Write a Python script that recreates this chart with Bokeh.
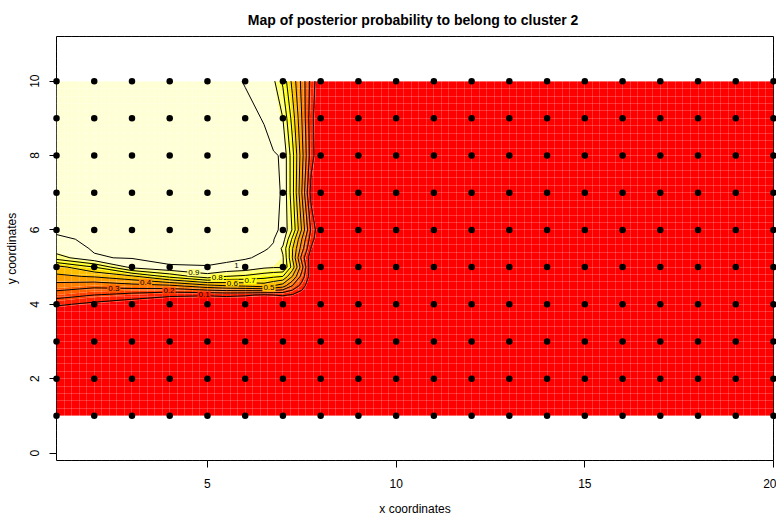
import numpy as np
from bokeh.plotting import figure
from bokeh.models import FixedTicker, SingleIntervalTicker, ColumnDataSource
from bokeh.core.properties import value
from bokeh.embed import file_html
from bokeh.resources import INLINE

title_text = "Map of posterior probability to belong to cluster  2"
x_label = "x coordinates"
y_label = "y coordinates"

# sampling sites (black dots)
site_x = list(range(1, 21))
site_y = list(range(1, 11))

# posterior probability, on a rectilinear grid of nodes
node_x = [1, 2, 3, 4, 5, 5.5, 6, 6.5, 6.75, 7, 7.25, 7.5, 7.75, 8, 20]
node_y = [1, 3.75, 4, 4.25, 4.5, 4.75, 5, 5.25, 5.5, 5.75, 6, 7, 8, 9, 10]
prob_rows = [
    [0, 0, 0, 0, 0, 0, 0, 0, 0, 0, 0, 0, 0, 0, 0],                                   # y=1
    [0, 0, 0, 0, 0, 0, 0, 0, 0, 0, 0, 0, 0, 0, 0],                                   # y=3.75
    [0.12, 0.07, 0.03, 0, 0, 0, 0, 0, 0, 0, 0, 0, 0, 0, 0],                          # y=4
    [0.25, 0.2, 0.16, 0.12, 0.11, 0.12, 0.11, 0.09, 0.1, 0.11, 0.09, 0.04, 0, 0, 0], # y=4.25
    [0.36, 0.33, 0.36, 0.38, 0.47, 0.5, 0.52, 0.55, 0.5, 0.45, 0.3, 0.16, 0, 0, 0],  # y=4.5
    [0.48, 0.51, 0.58, 0.73, 0.86, 0.8, 0.78, 0.74, 0.72, 0.7, 0.5, 0.26, 0.04, 0, 0],  # y=4.75
    [0.56, 0.7, 0.93, 0.993, 0.994, 0.99, 0.97, 0.92, 0.91, 0.91, 0.66, 0.34, 0.02, 0, 0],  # y=5
    [0.85, 0.99, 1, 1, 1, 1, 1, 0.985, 0.96, 0.91, 0.6, 0.26, 0.03, 0, 0],           # y=5.25
    [0.965, 1, 1, 1, 1, 1, 1, 0.999, 0.99, 0.88, 0.61, 0.35, 0.09, 0, 0],            # y=5.5
    [0.99, 1, 1, 1, 1, 1, 1, 1, 0.998, 0.95, 0.68, 0.4, 0.14, 0, 0],                 # y=5.75
    [1, 1, 1, 1, 1, 1, 1, 1, 1, 0.99, 0.79, 0.49, 0.18, 0, 0],                       # y=6
    [1, 1, 1, 1, 1, 1, 1, 1, 1, 0.993, 0.74, 0.4, 0.06, 0, 0],                       # y=7
    [1, 1, 1, 1, 1, 1, 1, 1, 1, 0.99, 0.74, 0.44, 0.14, 0, 0],                       # y=8
    [1, 1, 1, 1, 1, 1, 1, 0.994, 0.96, 0.9, 0.66, 0.4, 0.13, 0, 0],                  # y=9
    [1, 1, 1, 1, 1, 1, 0.994, 0.94, 0.92, 0.78, 0.57, 0.37, 0.165, 0, 0],            # y=10
]

# image colour breaks (heat.colors(12))
fill_levels = [-0.01, 0.0833, 0.1667, 0.25, 0.3333, 0.4167, 0.5, 0.5833,
               0.6667, 0.75, 0.8333, 0.9167, 1.01]
heat_colors = ["#FF0000", "#FF2000", "#FF4000", "#FF6000", "#FF8000", "#FF9F00",
               "#FFBF00", "#FFDF00", "#FFFF00", "#FFFF2A", "#FFFF80", "#FFFFD5"]

# contour lines and their labels
line_levels = [0.1, 0.2, 0.3, 0.4, 0.5, 0.6, 0.7, 0.8, 0.9, 0.995]
label_text = ["0.1", "0.2", "0.3", "0.4", "0.5", "0.6", "0.7", "0.8", "0.9", "1"]
label_value = [0.1, 0.2, 0.3, 0.4, 0.5, 0.6, 0.7, 0.8, 0.9, 1.0]
label_x = [4.91, 3.98, 2.52, 3.36, 6.63, 5.66, 6.13, 5.26, 4.64, 5.77]
label_y = [4.25, 4.36, 4.42, 4.58, 4.44, 4.57, 4.63, 4.71, 4.85, 5.03]

x_ticks = [5, 10, 15, 20]
y_ticks = [0, 2, 4, 6, 8, 10]

FONT = "Liberation Sans"

Z = np.array(prob_rows, dtype=float)

p = figure(width=776, height=518, x_range=(1, 20), y_range=(-0.2, 11.2),
           output_backend="svg", toolbar_location=None, title=title_text,
           min_border_left=56, min_border_right=3, min_border_top=35,
           min_border_bottom=56, background_fill_color="white",
           border_fill_color="white")

# filled image
p.contour(x=node_x, y=node_y, z=Z, levels=fill_levels,
          fill_color=heat_colors, line_color=None)

# faint cell texture
p.xgrid.ticker = SingleIntervalTicker(interval=0.2)
p.ygrid.ticker = SingleIntervalTicker(interval=0.2)
for g in (p.xgrid, p.ygrid):
    g.grid_line_color = "white"
    g.grid_line_alpha = 0.2
    g.grid_line_width = 1
    g.level = "guide"

# contour lines
cl = p.contour(x=node_x, y=node_y, z=Z, levels=line_levels,
               line_color="black", line_width=1)
cl.level = "annotation"

# contour labels
bg = [heat_colors[min(int(np.searchsorted(fill_levels, v, side="right")) - 1, 11)]
      for v in label_value]
lab_src = ColumnDataSource(dict(x=label_x, y=label_y, text=label_text, bg=bg))
p.text(x="x", y="y", text="text", source=lab_src, text_font=value(FONT),
       text_font_size="8px", text_align="center", text_baseline="middle",
       text_color="black", background_fill_color="bg", padding=1,
       level="annotation")

# sites
gx, gy = np.meshgrid(site_x, site_y)
p.scatter(x=gx.ravel(), y=gy.ravel(), size=6.5, fill_color="black",
          line_color=None, level="overlay")

# title
p.title.text_font = FONT
p.title.text_font_size = "14px"
p.title.text_font_style = "bold"
p.title.align = "center"
p.title.text_color = "black"
p.title.standoff = 18

# axes
p.xaxis.ticker = FixedTicker(ticks=x_ticks)
p.yaxis.ticker = FixedTicker(ticks=y_ticks)
p.xaxis.axis_label = x_label
p.yaxis.axis_label = y_label
for ax in (p.xaxis, p.yaxis):
    ax.axis_line_color = None
    ax.major_tick_out = 7
    ax.major_tick_in = 0
    ax.minor_tick_line_color = None
    ax.major_tick_line_color = "black"
    ax.major_label_text_font = FONT
    ax.major_label_text_font_size = "12px"
    ax.major_label_text_color = "black"
    ax.axis_label_text_font = FONT
    ax.axis_label_text_font_size = "12px"
    ax.axis_label_text_font_style = "normal"
    ax.axis_label_text_color = "black"
p.xaxis.major_label_standoff = 11
p.xaxis.axis_label_standoff = 11
p.yaxis.major_label_standoff = 10
p.yaxis.axis_label_standoff = 9
p.yaxis.major_label_orientation = "vertical"

p.outline_line_color = "black"
p.outline_line_width = 1
p.outline_line_alpha = 1

open("out.html", "w").write(file_html(p, INLINE))
